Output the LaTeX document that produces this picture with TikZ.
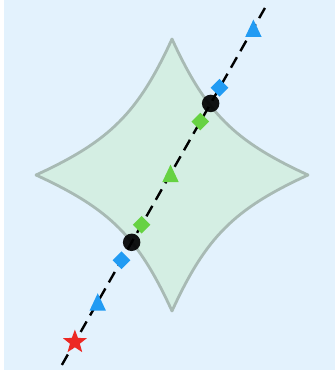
\documentclass[tikz,border=0pt]{standalone}
\usepackage{tikz}
\usetikzlibrary{shapes.geometric, calc}

\definecolor{bgblue}{RGB}{227,242,253}
\definecolor{sparkfill}{RGB}{212,238,227}
\definecolor{sparkline}{RGB}{168,186,180}
\definecolor{markblue}{RGB}{33,155,243}
\definecolor{markgreen}{RGB}{102,210,66}
\definecolor{markred}{RGB}{236,40,35}

\tikzset{marktri/.pic={\fill (0,-8.7) -- (8.2,8.7) -- (-8.2,8.7) -- cycle;}}

\begin{document}
\begin{tikzpicture}[x=1pt, y=-1pt]
        % Styles
        \tikzstyle{sparkle} = [fill=sparkfill, draw=sparkline, line width=2.8pt, line join=round]
        \tikzstyle{dashline} = [draw=black, line width=2.4pt, dash pattern=on 12pt off 7pt]
        \tikzstyle{diam} = [rectangle, minimum size=12.5pt, inner sep=0pt, rotate=45]
        \tikzstyle{bluediam} = [diam, fill=markblue]
        \tikzstyle{greendiam} = [diam, fill=markgreen]
        \tikzstyle{hit} = [circle, fill=black, fill opacity=0.92, minimum size=17.5pt, inner sep=0pt]
        \tikzstyle{startmark} = [star, star points=5, star point ratio=2.4, minimum size=25pt, inner sep=0pt, fill=markred]

        \useasboundingbox (0,0) rectangle (335,372);
        \fill[bgblue] (4,0) rectangle (335,370);

        % Sparkle
        \draw[sparkle] (172,39) .. controls (138,113) and (110,141) .. (36,175)
            .. controls (110,209) and (138,237) .. (172,311)
            .. controls (206,237) and (234,209) .. (308,175)
            .. controls (234,141) and (206,113) .. cycle;

        % Line
        \coordinate (mid) at (170.5,174);
        \coordinate (lineA) at ($(mid)+(240.37:219.7pt)$);
        \coordinate (lineB) at ($(mid)+(60.37:191pt)$);
        \draw[dashline] (lineA) -- (lineB);

        % Nodes
        \node[startmark] (start) at ($(mid)+(240.37:193.4pt)$) {};
        \pic[markblue] (outlow) at ($(mid)+(240.37:147.2pt)$) {marktri};
        \node[bluediam] (nearlow) at ($(mid)+(240.37:99.2pt)$) {};
        \node[hit] (hitlow) at ($(mid)+(240.37:78.6pt)$) {};
        \node[greendiam] (inlow) at ($(mid)+(240.37:58.4pt)$) {};
        \pic[markgreen] (centre) at (170.5,173.3) {marktri};
        \node[greendiam] (inhigh) at ($(mid)+(60.37:60.3pt)$) {};
        \node[hit] (hithigh) at ($(mid)+(60.37:81.2pt)$) {};
        \node[bluediam] (nearhigh) at ($(mid)+(60.37:99.2pt)$) {};
        \pic[markblue] (outhigh) at ($(mid)+(60.37:167.7pt)$) {marktri};
    \end{tikzpicture}
\end{document}
